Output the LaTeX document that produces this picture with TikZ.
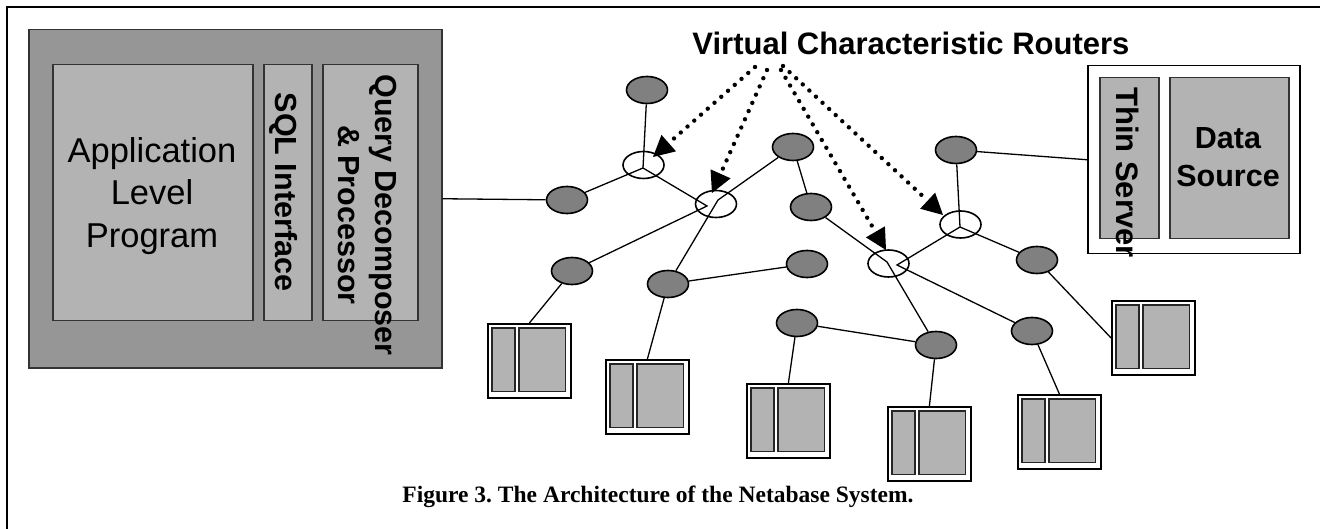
\documentclass[tikz,border=0pt]{standalone}
\usepackage{fontspec}
\setmainfont{Liberation Sans}
\newfontfamily\capfont{Liberation Serif}
\usetikzlibrary{shapes.geometric,arrows.meta}
\definecolor{boxdark}{RGB}{150,150,150}
\definecolor{boxlight}{RGB}{179,179,179}
\definecolor{nodegray}{RGB}{128,128,128}
\frenchspacing
\tikzset{
  gnode/.style={ellipse,draw=black,line width=1.6pt,fill=nodegray,minimum width=41pt,minimum height=27pt,inner sep=0pt},
  rnode/.style={ellipse,draw=black,line width=1.6pt,minimum width=41pt,minimum height=27pt,inner sep=0pt},
  link/.style={draw=black,line width=1.3pt},
  vlink/.style={line width=4.4pt,dash pattern=on 0pt off 9pt,line cap=round,
    -{Triangle[length=21pt,width=22pt,line width=0pt]}},
  dbox/.style={draw=black!80,line width=1.5pt,fill=boxdark,inner sep=0pt,anchor=north west},
  lbox/.style={draw=black!80,line width=1.5pt,fill=boxlight,inner sep=0pt,anchor=north west},
  sbox/.style={draw=black,line width=1.8pt,fill=white,inner sep=0pt,anchor=north west,minimum width=83pt,minimum height=74pt},
  sinner/.style={draw=black!85,line width=1.6pt,fill=boxlight},
  bigtxt/.style={font=\bfseries\fontsize{30.5}{37}\selectfont,align=center,inner sep=0pt},
}
\newcommand\srvbox[3]{%
  \node[sbox] (#1) at (#2,#3) {};
  \draw[sinner] ([shift={(5,5)}]#1.north west) rectangle ([shift={(28,68.5)}]#1.north west);
  \draw[sinner] ([shift={(32,5)}]#1.north west) rectangle ([shift={(78.5,68.5)}]#1.north west);
}
\begin{document}
\begin{tikzpicture}[x=1pt,y=-1pt]
\useasboundingbox (0,0) rectangle (1320,529);
\fill[white] (0,0) rectangle (1320,529);
\draw[line width=1.8pt] (7,529) -- (7,7) -- (1320,7);

% client side
\node[dbox,minimum width=413pt,minimum height=338pt] (client) at (28,29) {};
\node[lbox,minimum width=200pt,minimum height=256pt] (app) at (52,64) {};
\node[lbox,minimum width=48pt,minimum height=256pt] (sql) at (263,64) {};
\node[lbox,minimum width=95pt,minimum height=256pt] (qdp) at (322,64) {};
\node[font=\fontsize{34.5}{42.5}\selectfont,align=center,inner sep=0pt] (apptxt) at (152,196) {Application\\Level\\Program};
\node[bigtxt,rotate=-90] (sqltxt) at (284,192) {SQL Interface};
\node[bigtxt,rotate=-90] (qdptxt) at (367.5,215) {Query Decomposer\\\& Processor};

% thin server
\node[draw=black,line width=1.5pt,fill=white,inner sep=0pt,anchor=north west,minimum width=212pt,minimum height=188pt] (ts) at (1087,65) {};
\node[lbox,minimum width=59pt,minimum height=161pt] (thin) at (1099,77) {};
\node[lbox,minimum width=119pt,minimum height=161pt] (dsrc) at (1169,77) {};
\node[bigtxt,rotate=-90,font=\bfseries\fontsize{31}{37}\selectfont] (thintxt) at (1128,172.5) {Thin Server};
\node[bigtxt,font=\bfseries\fontsize{30.5}{38}\selectfont] (dsrctxt) at (1228,157) {Data\\Source};

% title and caption
\node[font=\bfseries\fontsize{31}{37}\selectfont,anchor=base,inner sep=0pt] (vcr) at (911,55) {Virtual Characteristic Routers};
\node[font=\capfont\bfseries\fontsize{23.5}{28}\selectfont,anchor=base,inner sep=0pt] (cap) at (658,502) {Figure 3. The Architecture of the Netabase System.};

% server boxes
\srvbox{B1}{487}{323}
\srvbox{B2}{605}{359}
\srvbox{B3}{746}{383}
\srvbox{B4}{887}{406}
\srvbox{B5}{1017}{394}
\srvbox{B6}{1111}{300}

% gray nodes
\node[gnode] (G1) at (647,90) {};
\node[gnode] (G2) at (567,200) {};
\node[gnode] (G3) at (793,147) {};
\node[gnode] (G4) at (811,207) {};
\node[gnode] (G5) at (572,271) {};
\node[gnode] (G6) at (668,284) {};
\node[gnode] (G7) at (807,264) {};
\node[gnode] (G8) at (956,150) {};
\node[gnode] (G9) at (1037,260) {};
\node[gnode] (G10) at (797,323) {};
\node[gnode] (G11) at (936,345) {};
\node[gnode] (G12) at (1032,331) {};

% routers
\node[rnode] (R1) at (643.5,165) {};
\node[rnode] (R2) at (716,204) {};
\node[rnode] (R3) at (960.5,224.5) {};
\node[rnode] (R4) at (888.5,263.5) {};
\coordinate (R1p) at (643,168);
\coordinate (R2a) at (707,206);
\coordinate (R2b) at (718,200);
\coordinate (R3p) at (960,227);
\coordinate (R4a) at (897,265);
\coordinate (R4b) at (887,262);

% links
\draw[link] (client.east) -- (G2);
\draw[link] (G2) -- (R1p);
\draw[link] (G1) -- (R1p);
\draw[link] (R1p) -- (R2a) -- (G5);
\draw[link] (G3) -- (R2b) -- (G6);
\draw[link] (G3) -- (G4);
\draw[link] (G4) -- (R4b) -- (G11);
\draw[link] (G8) -- (R3p);
\draw[link] (R3p) -- (G9);
\draw[link] (R3p) -- (R4a) -- (G12);
\draw[link] (G8) -- (ts.west);
\draw[link] (G9) -- (B6.west);
\draw[link] (G5) -- (B1.north);
\draw[link] (G6) -- (B2.north);
\draw[link] (G6) -- (G7);
\draw[link] (G10) -- (G11);
\draw[link] (G10) -- (B3.north);
\draw[link] (G11) -- (B4.north);
\draw[link] (G12) -- (B5.north);

% dotted arrows
\coordinate (V1) at (755,67);
\coordinate (V2) at (767,70);
\coordinate (V3) at (781,70);
\coordinate (V4) at (783,66);
\coordinate (T1) at (653,157);
\coordinate (T2) at (712,193);
\coordinate (T3) at (886,250);
\coordinate (T4) at (943,215);
\draw[vlink] (V1) -- (T1);
\draw[vlink] (V2) -- (T2);
\draw[vlink] (V3) -- (T3);
\draw[vlink] (V4) -- (T4);
\end{tikzpicture}
\end{document}
